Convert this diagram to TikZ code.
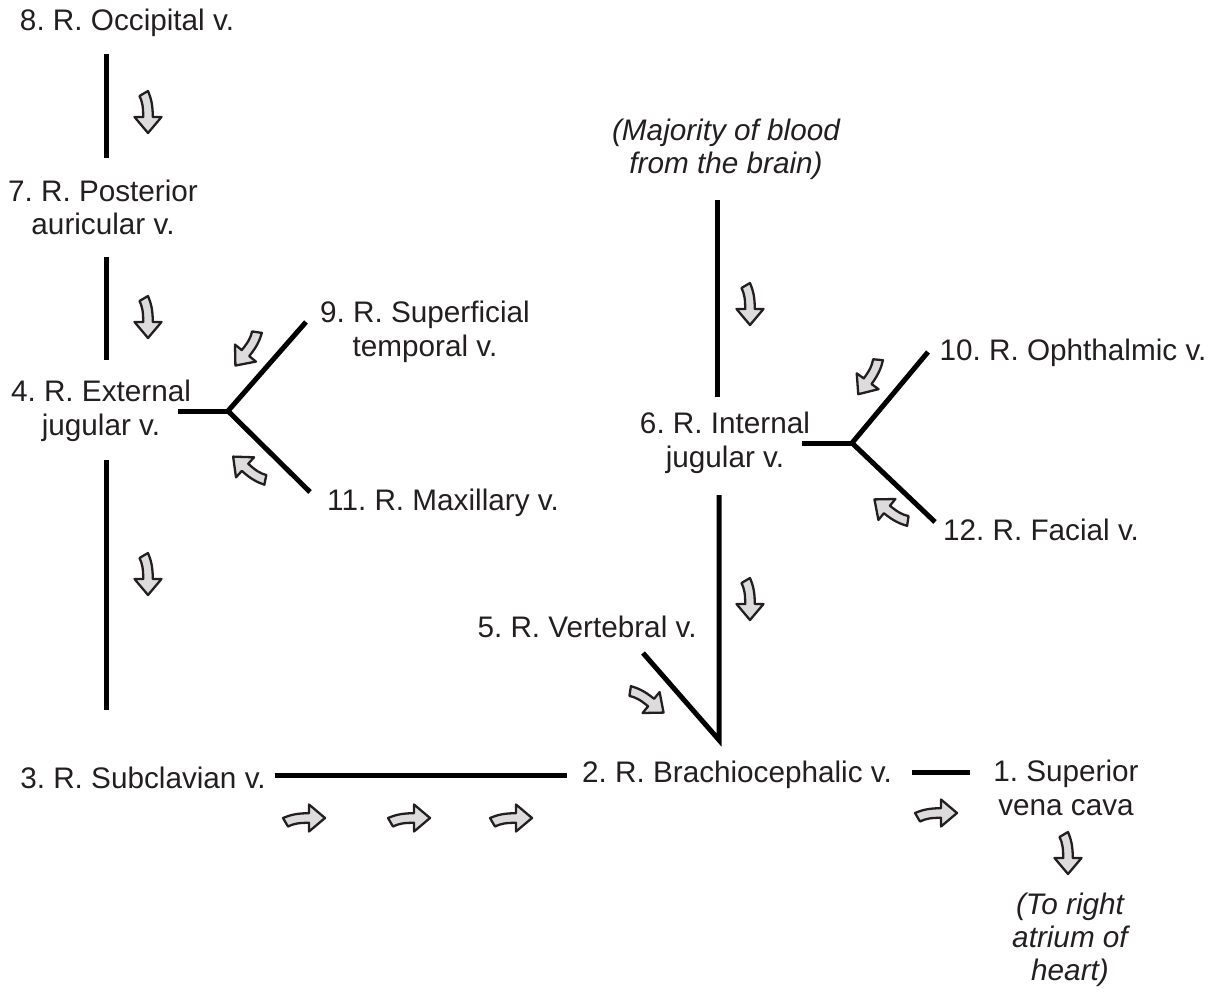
\documentclass[tikz,border=0pt]{standalone}
\usepackage{fontspec}
\setmainfont{Liberation Sans}
\frenchspacing
\definecolor{arrowgray}{HTML}{DCDCDC}
\definecolor{txt}{HTML}{231F20}
\begin{document}
\begin{tikzpicture}[x=1pt,y=-1pt,
  lbl/.style={inner sep=0pt, font=\fontsize{29.7}{33.5}\selectfont\frenchspacing, text=txt, align=center, anchor=base},
  note/.style={lbl, font=\fontsize{29.7}{33}\selectfont\itshape\frenchspacing},
  vein/.style={line width=5pt, draw=black},
  flow/.pic={
    \draw[line width=2.3pt, fill=arrowgray, line join=round, draw=txt]
      (20,0) -- (4,-13.5) -- (4,-4.8) .. controls (-8,-4.8) and (-15,-3) .. (-22,0)
      -- (-17,8.5) .. controls (-11,5.5) and (-6,4.8) .. (4,4.8) -- (4,13.5) -- cycle;
  }]
\useasboundingbox (0,0) rectangle (1213,992);

% labels (multi-line nodes: y is the baseline of the last line)
\node[lbl] (n8) at (127,31) {8. R. Occipital v.};
\node[lbl] (n7) at (103,235) {7. R. Posterior\\auricular v.};
\node[lbl] (n4) at (101,435) {4. R. External\\jugular v.};
\node[lbl] (n9) at (425,356) {9. R. Superficial\\temporal v.};
\node[lbl] (n11) at (443,510) {11. R. Maxillary v.};
\node[lbl] (n3) at (143,788) {3. R. Subclavian v.};
\node[lbl] (n2) at (737,782) {2. R. Brachiocephalic v.};
\node[lbl] (n1) at (1066,815) {1. Superior\\vena cava};
\node[note] (heart) at (1070,980) {(To right\\atrium of\\heart)};
\node[note] (brain) at (726,174) {(Majority of blood\\from the brain)};
\node[lbl] (n6) at (725,467) {6. R. Internal\\jugular v.};
\node[lbl] (n10) at (1073,360) {10. R. Ophthalmic v.};
\node[lbl] (n12) at (1041,540) {12. R. Facial v.};
\node[lbl] (n5) at (587,637) {5. R. Vertebral v.};

% vein endpoints
\coordinate (v87a) at (106,54);   \coordinate (v87b) at (106,158);
\coordinate (v74a) at (106,257);  \coordinate (v74b) at (106,360);
\coordinate (v43a) at (106,460);  \coordinate (v43b) at (106,710);
\coordinate (ej) at (228,411);    \coordinate (ejl) at (178,411);
\coordinate (ej9) at (306,322);   \coordinate (ej11) at (310,492);
\coordinate (s3a) at (275,775);   \coordinate (s3b) at (567,775);
\coordinate (s1a) at (912,772);   \coordinate (s1b) at (970,772);
\coordinate (ijt) at (717,200);   \coordinate (ijb) at (717,397);
\coordinate (ij) at (852,443);    \coordinate (ijl) at (802,443);
\coordinate (ij10) at (928,352);  \coordinate (ij12) at (935,522);
\coordinate (ij2a) at (719,495);  \coordinate (bc) at (719,740);
\coordinate (vt) at (643,653);

\draw[vein] (v87a) -- (v87b);
\draw[vein] (v74a) -- (v74b);
\draw[vein] (v43a) -- (v43b);
\draw[vein] (ejl) -- (ej);
\draw[vein] (ej9) -- (ej) -- (ej11);
\draw[vein] (s3a) -- (s3b);
\draw[vein] (s1a) -- (s1b);
\draw[vein] (ijt) -- (ijb);
\draw[vein] (ijl) -- (ij);
\draw[vein] (ij10) -- (ij) -- (ij12);
\draw[vein, line join=miter] (vt) -- (bc) -- (ij2a);

% flow arrows
\pic[rotate=-90] (a1) at (148,113) {flow};
\pic[rotate=-90] (a2) at (148,318) {flow};
\pic[rotate=-90] (a3) at (148,575) {flow};
\pic[rotate=-129] (a4) at (248,350) {flow};
\pic[rotate=138] (a5) at (248,470) {flow};
\pic[rotate=-90] (a6) at (750,305) {flow};
\pic[rotate=-126] (a7) at (870,378) {flow};
\pic[rotate=141] (a8) at (890,512) {flow};
\pic[rotate=-90] (a9) at (750,600) {flow};
\pic[rotate=-39] (a10) at (648,700) {flow};
\pic (a11) at (305,818) {flow};
\pic (a12) at (410,818) {flow};
\pic (a13) at (512,818) {flow};
\pic (a14) at (937,813) {flow};
\pic[rotate=-90] (a15) at (1068,854) {flow};
\end{tikzpicture}
\end{document}
